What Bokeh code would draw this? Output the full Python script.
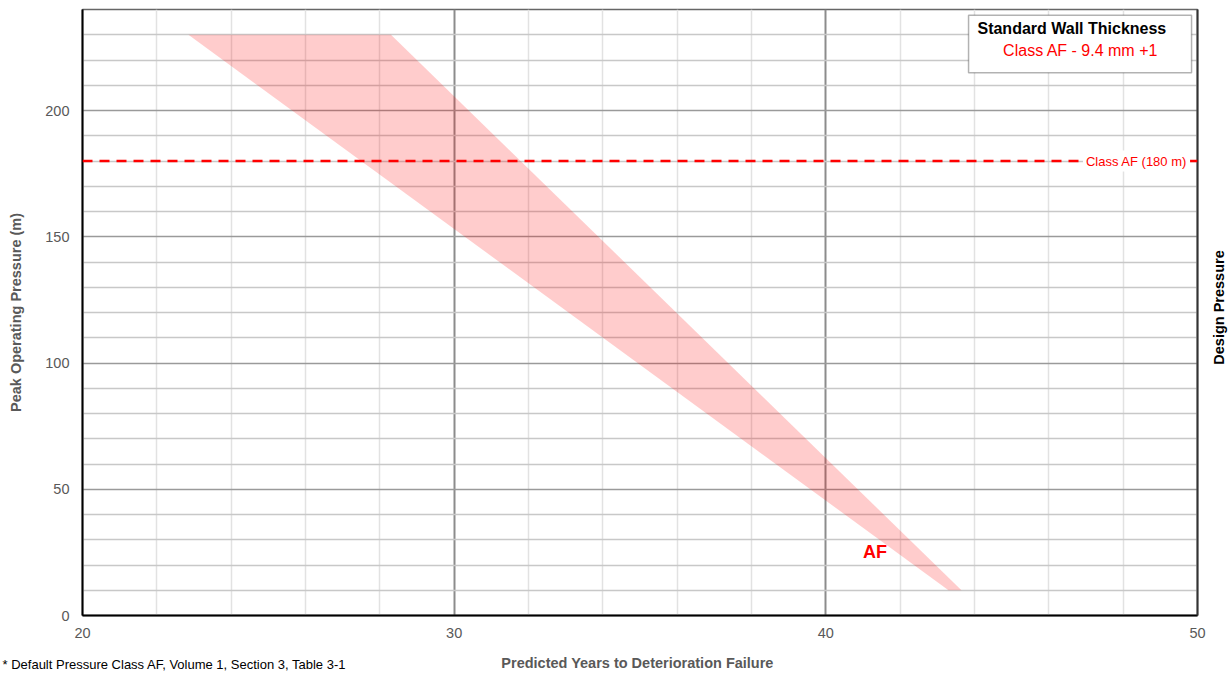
import math
from bokeh.plotting import figure
from bokeh.models import Range1d, FixedTicker, LinearAxis, Span, Label, BoxAnnotation
from bokeh.embed import file_html
from bokeh.resources import INLINE

# ---- data ----
band_pressure = [230, 10]          # peak operating pressure (m) at the band ends
band_years_low = [22.85, 43.3]     # left edge of the AF band (years)
band_years_high = [28.3, 43.65]    # right edge of the AF band (years)
design_pressure = 180              # Class AF design pressure (m)
x_major_ticks = [20, 30, 40, 50]
x_minor_ticks = [22, 24, 26, 28, 32, 34, 36, 38, 42, 44, 46, 48]
y_major_ticks = [0, 50, 100, 150, 200]
y_minor_ticks = [10, 20, 30, 40, 60, 70, 80, 90, 110, 120, 130, 140, 160, 170, 180, 190, 210, 220, 230, 240]

FONT = "Liberation Sans"
GRAY = "#595959"

p = figure(width=1228, height=673, x_range=Range1d(20, 50), y_range=Range1d(0, 240),
           output_backend="svg", toolbar_location=None,
           min_border_left=82, min_border_right=31, min_border_top=9, min_border_bottom=58)
p.background_fill_color = "white"
p.border_fill_color = "white"
p.outline_line_color = "#666666"
p.outline_line_width = 1.5

# band
p.harea(x1=band_years_low, x2=band_years_high, y=band_pressure,
        fill_color="#ff0000", fill_alpha=0.2)

# axes
xt = FixedTicker(ticks=x_major_ticks, minor_ticks=x_minor_ticks)
yt = FixedTicker(ticks=y_major_ticks, minor_ticks=y_minor_ticks)
p.xaxis.ticker = xt
p.yaxis.ticker = yt
p.xgrid.ticker = xt
p.ygrid.ticker = yt

for ax in (p.xaxis[0], p.yaxis[0]):
    ax.axis_line_color = "black"
    ax.axis_line_width = 2
    ax.major_tick_line_color = None
    ax.minor_tick_line_color = None
    ax.major_tick_out = 0
    ax.major_tick_in = 0
    ax.minor_tick_out = 0
    ax.minor_tick_in = 0
    ax.major_label_text_font = FONT
    ax.major_label_text_font_size = "14.5px"
    ax.major_label_text_color = GRAY
    ax.axis_label_text_font = FONT
    ax.axis_label_text_font_size = "14.5px"
    ax.axis_label_text_font_style = "bold"
    ax.axis_label_text_color = GRAY

p.yaxis.axis_label = "Peak Operating Pressure (m)"
p.xaxis.major_label_standoff = 12
p.yaxis.major_label_standoff = 13
p.yaxis.axis_label_standoff = 18

# grids
p.xgrid.grid_line_color = "#8c8c8c"
p.xgrid.grid_line_width = 2
p.xgrid.minor_grid_line_color = "#e2e2e2"
p.xgrid.minor_grid_line_width = 1.5
p.ygrid.grid_line_color = "#9a9a9a"
p.ygrid.grid_line_width = 1.5
p.ygrid.minor_grid_line_color = "#c8c8c8"
p.ygrid.minor_grid_line_width = 1.5

# right axis: dark border line only
rax = LinearAxis(ticker=FixedTicker(ticks=[]),
                 axis_line_color="#333333", axis_line_width=2,
                 major_tick_line_color=None, minor_tick_line_color=None,
                 major_tick_out=0, major_tick_in=0, minor_tick_out=0, minor_tick_in=0,
                 major_label_standoff=0)
p.add_layout(rax, "right")

# right-hand title, rotated, in the right panel
p.add_layout(Label(x=21, y=308, x_units="screen", y_units="screen", text="Design Pressure",
                   angle=math.pi / 2, text_align="center", text_baseline="middle",
                   text_font=FONT, text_font_size="14.5px", text_font_style="bold",
                   text_color="black"), "right")

# x-axis title and footnote, as rows of the bottom panel
p.add_layout(Label(x=555, y=-6.8, x_units="screen", y_units="screen",
                   text="Predicted Years to Deterioration Failure",
                   text_align="center", text_baseline="middle",
                   text_font=FONT, text_font_size="14.5px", text_font_style="bold",
                   text_color=GRAY), "below")
p.add_layout(Label(x=-80, y=7.3, x_units="screen", y_units="screen",
                   text="* Default Pressure Class AF, Volume 1, Section 3, Table 3-1",
                   text_align="left", text_baseline="middle",
                   text_font=FONT, text_font_size="13px", text_color="black"), "below")

# design pressure line and label
p.add_layout(Span(location=design_pressure, dimension="width", line_color="#ff0000",
                  line_width=2.5, line_dash="10 7"))
p.add_layout(Label(x=49.8, y=design_pressure, text="Class AF (%d m)" % design_pressure,
                   text_align="right", text_baseline="middle",
                   text_font=FONT, text_font_size="13px", text_color="#ff0000",
                   background_fill_color="white", padding=3))

# band label
p.add_layout(Label(x=41.0, y=25.1, text="AF", text_align="left", text_baseline="middle",
                   text_font=FONT, text_font_size="18px", text_font_style="bold",
                   text_color="#ff0000"))

# legend-like box
p.add_layout(BoxAnnotation(left=43.84, right=49.84, bottom=215.0, top=237.7,
                           fill_color="white", fill_alpha=1.0,
                           line_color="black", line_width=1.5))
p.add_layout(Label(x=44.08, y=232.3, text="Standard Wall Thickness",
                   text_align="left", text_baseline="middle",
                   text_font=FONT, text_font_size="16px", text_font_style="bold",
                   text_color="black"))
p.add_layout(Label(x=44.77, y=223.9, text="Class AF - 9.4 mm +1",
                   text_align="left", text_baseline="middle",
                   text_font=FONT, text_font_size="16px", text_color="#ff0000"))

open("out.html", "w").write(file_html(p, INLINE))
